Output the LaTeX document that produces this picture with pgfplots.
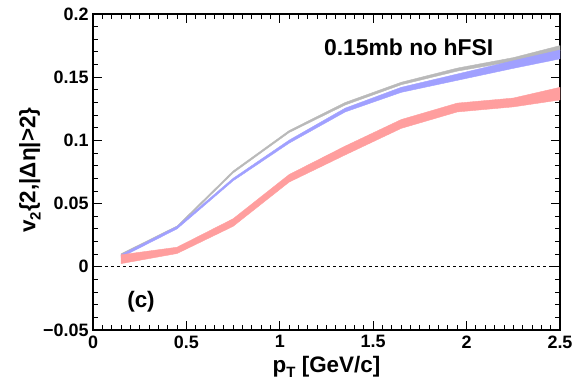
\documentclass[border=0pt]{standalone}
\usepackage{fontspec}
\setmainfont{Liberation Sans}
\usepackage{pgfplots}
\pgfplotsset{compat=1.18}
\definecolor{bandred}{RGB}{255,158,158}
\definecolor{bandblue}{RGB}{160,160,255}
\definecolor{bandgray}{RGB}{185,185,185}
\begin{document}
\begin{tikzpicture}
\useasboundingbox (0,0) rectangle (572bp,388bp);
\begin{axis}[
  at={(93bp,58bp)}, anchor=south west,
  scale only axis, width=467bp, height=316bp,
  xmin=0, xmax=2.5, ymin=-0.05, ymax=0.2,
  axis line style={line width=1.2bp},
  every tick/.style={black, line width=0.9bp},
  tick align=inside,
  major tick length=9bp, minor tick length=5bp,
  xtick={0,0.5,1,1.5,2,2.5},
  xticklabels={0,0.5,1,1.5,2,2.5},
  minor x tick num=9,
  ytick={-0.05,0,0.05,0.1,0.15,0.2},
  yticklabels={−0.05,0,0.05,0.1,0.15,0.2},
  minor y tick num=4,
  tick label style={font=\bfseries\fontsize{18}{18}\selectfont},
  xticklabel style={yshift=-2bp},
  yticklabel style={xshift=-1bp},
  xlabel={p\raisebox{-0.45ex}{\fontsize{15}{15}\selectfont T} [GeV/c]},
  ylabel={v\raisebox{-0.45ex}{\fontsize{15}{15}\selectfont 2}\{2,|Δη|>2\}},
  label style={font=\bfseries\fontsize{22.5}{24}\selectfont},
  xlabel style={at={(axis description cs:0.5,-0.117)}, anchor=center},
  ylabel style={at={(axis description cs:-0.135,0.506)}, anchor=center},
  clip=true,
]
% gray band
\addplot[fill=bandgray, draw=bandgray, line width=0.4bp] coordinates {
(0.15,0.0103) (0.45,0.0323) (0.75,0.0758) (1.05,0.1078) (1.35,0.130) (1.65,0.146) (1.95,0.1572) (2.25,0.1655) (2.5,0.175)
(2.5,0.171) (2.25,0.1625) (1.95,0.1548) (1.65,0.144) (1.35,0.128) (1.05,0.1062) (0.75,0.0742) (0.45,0.0307) (0.15,0.0087)
} -- cycle;
% blue band
\addplot[fill=bandblue, draw=bandblue, line width=0.4bp] coordinates {
(0.15,0.0095) (0.45,0.032) (0.75,0.070) (1.05,0.1002) (1.35,0.1255) (1.65,0.142) (1.95,0.1525) (2.25,0.163) (2.5,0.1715)
(2.5,0.1645) (2.25,0.157) (1.95,0.1475) (1.65,0.138) (1.35,0.1225) (1.05,0.0978) (0.75,0.068) (0.45,0.030) (0.15,0.0075)
} -- cycle;
% red band
\addplot[fill=bandred, draw=bandred, line width=0.4bp] coordinates {
(0.15,0.0095) (0.45,0.0155) (0.75,0.038) (1.05,0.073) (1.35,0.0955) (1.65,0.1165) (1.95,0.1295) (2.25,0.1335) (2.5,0.142)
(2.5,0.132) (2.25,0.1265) (1.95,0.1225) (1.65,0.1095) (1.35,0.0885) (1.05,0.067) (0.75,0.032) (0.45,0.0105) (0.15,0.0025)
} -- cycle;
% zero line
\addplot[black, line width=1.4bp, dash pattern=on 3bp off 3bp] coordinates {(0,0) (2.5,0)};
\node[font=\bfseries\fontsize{23}{24}\selectfont] at (axis cs:1.69,0.174) {0.15mb no hFSI};
\node[font=\bfseries\fontsize{22.5}{24}\selectfont] at (axis cs:0.257,-0.028) {(c)};
\end{axis}
\end{tikzpicture}
\end{document}
